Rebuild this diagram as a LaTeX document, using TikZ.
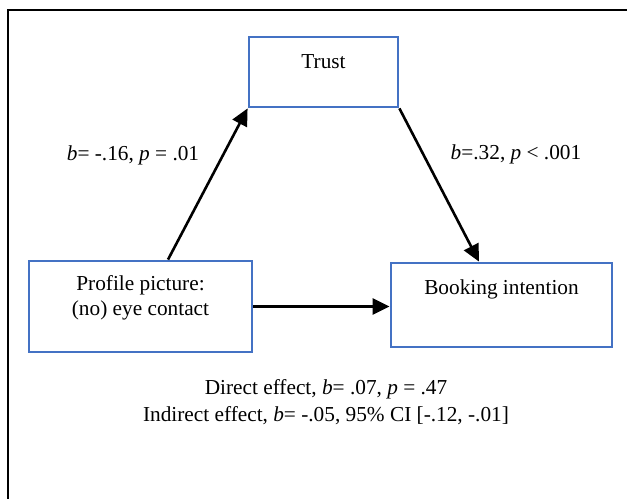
\documentclass[tikz,border=0pt]{standalone}
\usepackage{fontspec}
\setmainfont{Liberation Serif}
\usetikzlibrary{arrows.meta}
\definecolor{boxblue}{RGB}{68,114,196}

\begin{document}
\begin{tikzpicture}[x=1pt, y=1pt,
		box/.style={rectangle, draw=boxblue, line width=2.8pt},
		arr/.style={line width=2.6pt, -{Triangle[length=17pt, width=16pt]}},
		txt/.style={font=\fontsize{21.3}{25}\selectfont, inner sep=0pt, align=center}]
		\useasboundingbox (0, 0) rectangle (627, -499);

		% 外枠
		\draw[line width=2.4pt] (627, -10) -- (8, -10) -- (8, -499);

		\node[box, minimum width=149pt, minimum height=70pt] (T) at (323.5, -72) {};
		\node[box, minimum width=223pt, minimum height=91pt] (P) at (140.5, -306.5) {};
		\node[box, minimum width=221pt, minimum height=84pt] (B) at (501.5, -305) {};

		\draw[arr] ([xshift=27.5pt]P.north) -- (T.south west);
		\draw[arr] (T.south east) -- ([xshift=-22.5pt]B.north);
		\draw[arr] (P.east) -- (P.east -| B.west);

		% 箱の中に文字を入れる
		\node[txt] (Tt) at (323.5, -62) {Trust};
		\node[txt] (Pt) at (140.5, -297.5) {Profile picture:\\(no) eye contact};
		\node[txt] (Bt) at (501.5, -289) {Booking intention};

		% 係数
		\node[txt] (a) at (133, -155) {\textit{b}= -.16, \textit{p} = .01};
		\node[txt] (b) at (516, -154) {\textit{b}=.32, \textit{p} < .001};
		\node[txt] (E) at (326, -402) {Direct effect, \textit{b}= .07, \textit{p} = .47\\[2pt]
			Indirect effect, \textit{b}= -.05, 95\% CI [-.12, -.01]};
	\end{tikzpicture}
\end{document}
